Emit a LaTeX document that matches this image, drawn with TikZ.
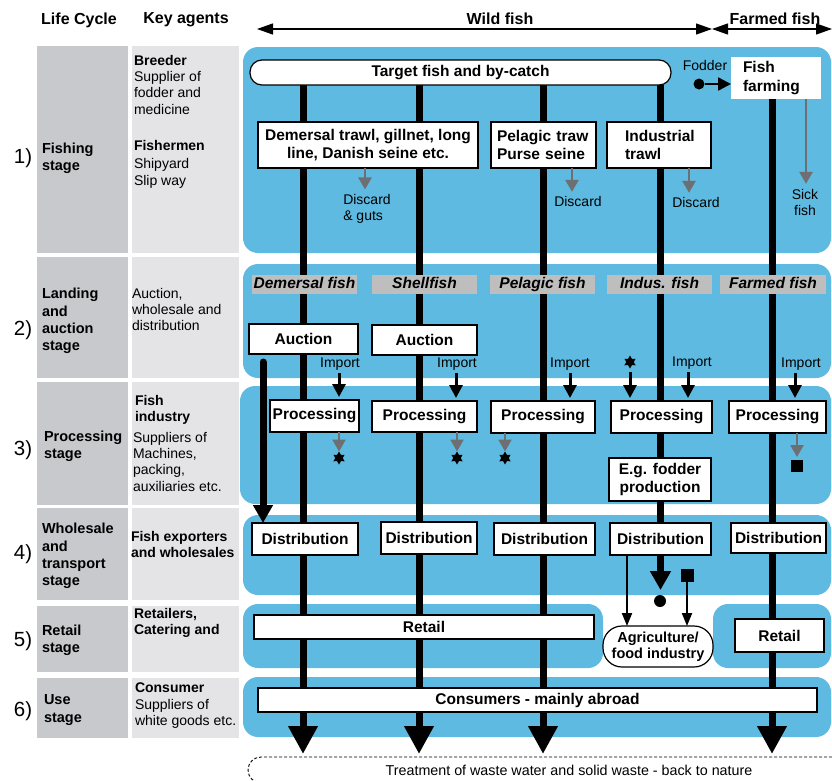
\documentclass[tikz,border=0pt]{standalone}
\usepackage{fontspec}
\setmainfont{Liberation Sans}
\usepackage{tikz}
\usetikzlibrary{arrows.meta}
\usetikzlibrary{calc}
\usetikzlibrary{shapes.geometric}
\usetikzlibrary{positioning}
\definecolor{panelblue}{RGB}{94,186,224}
\definecolor{stagegray}{RGB}{200,201,205}
\definecolor{agentgray}{RGB}{228,228,230}
\definecolor{typegray}{RGB}{190,190,190}
\definecolor{ashgray}{RGB}{110,111,114}
\pgfdeclarelayer{panels}
\pgfdeclarelayer{flows}
\pgfsetlayers{panels,flows,main}

\begin{document}
\begin{tikzpicture}[x=1pt,y=-1pt,
		every node/.style={inner sep=0pt, outer sep=0pt},
		headfont/.style={font={\fontsize{16}{18}\selectfont\bfseries}},
		boxfont/.style={font={\fontsize{15.5}{18.5}\selectfont\bfseries}},
		notefont/.style={font={\fontsize{14}{16}\selectfont}},
		numfont/.style={font={\fontsize{20.5}{22}\selectfont}},
		stagetext/.style={font={\fontsize{14.5}{17.3}\selectfont\bfseries}, align=left, anchor=west},
		agenttext/.style={font={\fontsize{14}{16.3}\selectfont}, align=left, anchor=north west},
		flowbox/.style={boxfont, draw, line width=1.2pt, fill=white, align=center},
		fishtype/.style={font={\fontsize{15.5}{17}\selectfont\bfseries\itshape}, fill=typegray, minimum height=19pt, text height=11.5pt, text depth=3.5pt},
		panel/.style={fill=panelblue, rounded corners=15pt},
		flow/.style={line width=7pt},
		flowarrow/.style={line width=7pt, -{Triangle[width=28pt,length=28pt]}},
		sidearrow/.style={line width=7pt, line cap=round, -{Triangle[width=19pt,length=18pt]}},
		importarrow/.style={line width=3pt, -{Triangle[width=13pt,length=13pt]}},
		thinarrow/.style={line width=2pt, -{Triangle[width=10pt,length=13pt]}},
		wastearrow/.style={ashgray, line width=2.5pt, -{Triangle[width=13pt,length=12pt]}},
		spanarrow/.style={line width=1.2pt, {Triangle[width=11pt,length=16pt]}-{Triangle[width=11pt,length=16pt]}},
		residue/.style={star, star points=6, star point ratio=1.75, fill=black, minimum size=13pt},
		squarebit/.style={rectangle, fill=black, minimum size=13pt},
		blackdot/.style={circle, fill=black, minimum size=12pt}
	]
	\useasboundingbox (0,0) rectangle (832,780);

	% left columns
	\foreach \top/\bot in {46/253,257/378,382/505,508/600,606/672,678/738} {
			\fill[stagegray] (37,\top) rectangle (128,\bot);
			\fill[agentgray] (132,\top) rectangle (239,\bot);
		}
	\foreach \n/\y in {1/158,2/330,3/450,4/554,5/641,6/711}
	\node (num\n) [numfont] at (23,\y) {\n)};

	\node (lifeHead) [headfont] at (79,20) {Life Cycle};
	\node (keyHead) [headfont] at (186,20) {Key agents};
	\node (wildHead) [headfont] at (500,19) {Wild fish};
	\node (farmHead) [headfont] at (775,19) {Farmed fish};
	\coordinate (wildL) at (257,29);
	\coordinate (wildR) at (712,29);
	\coordinate (farmR) at (832,29);
	\draw[spanarrow] (wildL) -- (wildR);
	\draw[spanarrow] (wildR) -- (farmR);

	\node (stage1) [stagetext] at (42,158) {Fishing\\stage};
	\node (stage2) [stagetext] at (42,321) {Landing\\and\\auction\\stage};
	\node (stage3) [stagetext] at (44,446) {Processing\\stage};
	\node (stage4) [stagetext] at (42,556) {Wholesale\\and\\transport\\stage};
	\node (stage5) [stagetext] at (42,640) {Retail\\stage};
	\node (stage6) [stagetext] at (44,710) {Use\\stage};

	\node (agent1) [agenttext] at (134,55) {\textbf{Breeder}\\Supplier of\\fodder and\\medicine};
	\node (agent1b) [agenttext] at (134,140) {\textbf{Fishermen}\\[2.5pt]Shipyard\\Slip way};
	\node (agent2) [agenttext] at (132,288) {Auction,\\wholesale and\\distribution};
	\node (agent3) [agenttext] at (135,395) {\textbf{Fish}\\\textbf{industry}};
	\node (agent3b) [agenttext] at (133,432) {Suppliers of\\Machines,\\packing,\\auxiliaries etc.};
	\node (agent4) [agenttext, font={\fontsize{14}{16.3}\selectfont\bfseries}] at (131,531) {Fish exporters\\and wholesales};
	\node (agent5) [agenttext, font={\fontsize{14}{16.3}\selectfont\bfseries}] at (134,608) {Retailers,\\Catering and};
	\node (agent6) [agenttext] at (135,683) {\textbf{Consumer}\\Suppliers of\\white goods etc.};

	% blue stage panels
	\begin{pgfonlayer}{panels}
		\fill[panel] (243,47) rectangle (831,253);
		\fill[panel] (243,264) rectangle (831,378);
		\fill[panel] (240,386) rectangle (831,504);
		\fill[panel] (243,515) rectangle (831,595);
		\fill[panel] (243,604) rectangle (603,668);
		\fill[panel] (713,604) rectangle (831,668);
		\fill[panel] (243,677) rectangle (831,737);
	\end{pgfonlayer}

	% fishing stage
	\node (target) [flowbox, rounded corners=12pt, minimum width=421pt, minimum height=25pt] at (460.5,72.5) {Target fish and by-catch};
	\node (fodderTxt) [notefont] at (705,65) {Fodder};
	\node (fodderDot) [blackdot, minimum size=11pt] at (699,84) {};
	\node (farming) [boxfont, fill=white, minimum width=90pt, minimum height=42pt, text width=66pt, align=left] at (776,78) {Fish\\farming};
	\draw[importarrow, line width=2.5pt] (fodderDot) -- (fodderDot -| farming.west);

	\node (gearDem) [flowbox, minimum width=220pt, minimum height=46pt] at (368,145) {Demersal trawl, gillnet, long\\line, Danish seine etc.};
	\node (gearPel) [flowbox, minimum width=105pt, minimum height=46pt, text width=93pt, align=left] at (543.5,145) {Pelagic traw\\Purse seine};
	\node (gearInd) [flowbox, minimum width=104pt, minimum height=46pt, text width=68pt, align=left] at (659,145) {Industrial\\trawl};

	\node (discDem) [notefont, align=left] at (367,209) {Discard\\\& guts};
	\node (discPel) [notefont] at (578,201) {Discard};
	\node (discInd) [notefont] at (696,202) {Discard};
	\node (sickFish) [notefont, align=center] at (805,202) {Sick\\fish};
	\draw[wastearrow, shorten >=5pt] ([xshift=-2pt]discDem.north |- gearDem.south) -- ([xshift=-2pt]discDem.north);
	\draw[wastearrow, shorten >=4pt] ([xshift=-6pt]discPel.north |- gearPel.south) -- ([xshift=-6pt]discPel.north);
	\draw[wastearrow, shorten >=4pt] ([xshift=-7pt]discInd.north |- gearInd.south) -- ([xshift=-7pt]discInd.north);
	\draw[wastearrow, shorten >=5pt] ([xshift=1pt]sickFish.north |- farming.south) -- ([xshift=1pt]sickFish.north);

	% landing and auction
	\foreach \name/\x/\w/\txt in {Dem/304.5/105pt/Demersal fish, Shell/424.5/105pt/Shellfish, Pel/542.5/105pt/Pelagic fish, Ind/659.5/105pt/Indus. fish, Farm/773/106pt/Farmed fish}
	\node (type\name) [fishtype, minimum width=\w] at (\x,284) {\txt};

	\node (auctDem) [flowbox, minimum width=109pt, minimum height=30pt] at (303.5,339) {Auction};
	\node (auctShell) [flowbox, minimum width=105pt, minimum height=30pt] at (424.5,340) {Auction};

	\node (impDem) [notefont] at (340,364) {Import};
	\node (impShell) [notefont] at (457,364) {Import};
	\node (impPel) [notefont] at (570,364) {Import};
	\node (impInd) [notefont] at (692,363) {Import};
	\node (impFarm) [notefont] at (801,364) {Import};
	\node (resInd) [residue] at (630,362) {};

	% processing
	\node (procDem) [flowbox, minimum width=89pt, minimum height=32pt] at (314.5,416) {Processing};
	\node (procShell) [flowbox, minimum width=105pt, minimum height=31pt] at (424.5,416.5) {Processing};
	\node (procPel) [flowbox, minimum width=104pt, minimum height=32pt] at (543,417) {Processing};
	\node (procInd) [flowbox, minimum width=101pt, minimum height=32pt] at (661.5,417) {Processing};
	\node (procFarm) [flowbox, minimum width=97pt, minimum height=32pt] at (777.5,417) {Processing};

	\foreach \src/\dst/\s in {impDem/procDem/-1pt, impShell/procShell/-1pt, impPel/procPel/0pt, impInd/procInd/-4pt, impFarm/procFarm/-6pt, resInd/procInd/0pt}
	\draw[importarrow, shorten <=3pt, shorten >=3pt] ([xshift=\s]\src.south) -- ([xshift=\s]\src.south |- \dst.north);

	\node (resDem) [residue] at (339,458) {};
	\node (resShell) [residue] at (457,458) {};
	\node (resPel) [residue] at (505,458) {};
	\node (sqFarm) [squarebit, minimum size=12pt] at (797,466) {};
	\draw[wastearrow] (resDem.north |- procDem.south) -- (resDem.north);
	\draw[wastearrow] (resShell.north |- procShell.south) -- (resShell.north);
	\draw[wastearrow] (resPel.north |- procPel.south) -- (resPel.north);
	\draw[wastearrow, shorten >=3pt] (sqFarm.north |- procFarm.south) -- (sqFarm.north);

	\node (fodderProd) [flowbox, minimum width=102pt, minimum height=43pt] at (660,479.5) {E.g. fodder\\production};

	% wholesale and transport
	\node (distDem) [flowbox, minimum width=106pt, minimum height=32pt] at (305,539) {Distribution};
	\node (distShell) [flowbox, minimum width=96pt, minimum height=32pt] at (429,538) {Distribution};
	\node (distPel) [flowbox, minimum width=101pt, minimum height=32pt] at (544.5,539) {Distribution};
	\node (distInd) [flowbox, minimum width=101pt, minimum height=32pt] at (660.5,539) {Distribution};
	\node (distFarm) [flowbox, minimum width=95pt, minimum height=30pt] at (778.5,538) {Distribution};

	\draw[sidearrow, shorten <=8pt] ([xshift=14pt]auctDem.south west) -- ([xshift=14pt]auctDem.south west |- distDem.north);

	% retail and use
	\node (agri) [flowbox, rounded corners=19pt, minimum width=110pt, minimum height=41pt, font={\fontsize{14.5}{16.5}\selectfont\bfseries}] at (658,646.5) {Agriculture/\\food industry};
	\node (sqInd) [squarebit] at (687,575) {};
	\node (dotInd) [blackdot] at (660,601) {};
	\draw[line width=7pt, -{Triangle[width=20pt,length=19pt]}, shorten >=5pt] (distInd.south) -- (distInd.south |- dotInd.north);
	\draw[thinarrow] ([xshift=-33.5pt]distInd.south) -- ([xshift=-33.5pt]distInd.south |- agri.north);
	\draw[thinarrow] (sqInd.south) -- (sqInd.south |- agri.north);

	\node (retailWild) [flowbox, minimum width=340pt, minimum height=24pt] at (424,627) {Retail};
	\node (retailFarm) [flowbox, minimum width=89pt, minimum height=33pt] at (779.5,635.5) {Retail};
	\node (consumers) [flowbox, minimum width=559pt, minimum height=24pt] at (537.5,700) {Consumers - mainly abroad};
	\node (waste) [draw, line width=0.9pt, dash pattern=on 3pt off 2pt, rounded corners=13pt, minimum width=642pt, minimum height=26pt, font={\fontsize{14.3}{16}\selectfont}] at (569,770) {Treatment of waste water and solid waste - back to nature};

	% main flows behind the boxes
	\coordinate (endDem) at (303,754);
	\coordinate (endShell) at (419,754);
	\coordinate (endPel) at (543,754);
	\coordinate (endFarm) at (772,754);
	\begin{pgfonlayer}{flows}
		\foreach \c in {Dem, Shell, Pel}
		\draw[flowarrow] (target.south -| end\c) -- (end\c);
		\draw[flowarrow] (farming.south -| endFarm) -- (endFarm);
		\draw[flow] (target.south -| distInd) -- (distInd);
	\end{pgfonlayer}
\end{tikzpicture}
\end{document}
